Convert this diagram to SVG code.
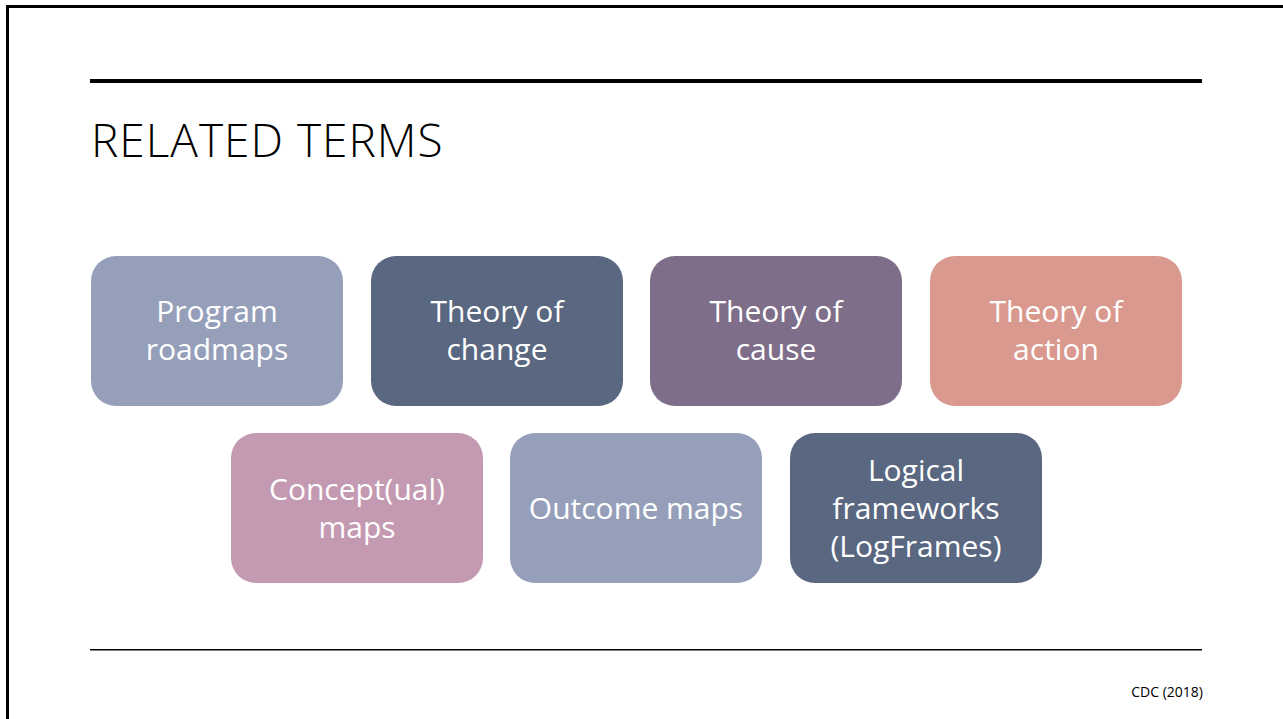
<svg xmlns="http://www.w3.org/2000/svg" width="1283" height="719" viewBox="0 0 1283 719">
<style>
.box{stroke:none}
.lbl{font-family:"Open Sans","Liberation Sans",sans-serif;font-size:30px;fill:#ffffff;text-anchor:middle}
.title{font-family:"Open Sans","Liberation Sans",sans-serif;font-weight:300;font-size:46px;letter-spacing:1px;fill:#000}
.foot{font-family:"Open Sans","Liberation Sans",sans-serif;font-size:14px;fill:#000;text-anchor:end}
</style>
<rect x="0" y="0" width="1283" height="719" fill="#ffffff"/>
<path d="M7.5 719 V6.5 H1283" fill="none" stroke="#000" stroke-width="3"/>
<rect x="90" y="79" width="1112" height="4" fill="#000"/>
<text class="title" x="91" y="157">RELATED TERMS</text>
<g id="n1"><rect class="box" x="91" y="256" width="252" height="150" rx="25" fill="#959FBA"/><text class="lbl" x="217" y="322">Program</text><text class="lbl" x="217" y="360">roadmaps</text></g>
<g id="n2"><rect class="box" x="371" y="256" width="252" height="150" rx="25" fill="#5A6780"/><text class="lbl" x="497" y="322">Theory of</text><text class="lbl" x="497" y="360">change</text></g>
<g id="n3"><rect class="box" x="650" y="256" width="252" height="150" rx="25" fill="#7E6E8A"/><text class="lbl" x="776" y="322">Theory of</text><text class="lbl" x="776" y="360">cause</text></g>
<g id="n4"><rect class="box" x="930" y="256" width="252" height="150" rx="25" fill="#DA998E"/><text class="lbl" x="1056" y="322">Theory of</text><text class="lbl" x="1056" y="360">action</text></g>
<g id="n5"><rect class="box" x="231" y="433" width="252" height="150" rx="25" fill="#C39AB1"/><text class="lbl" x="357" y="500">Concept(ual)</text><text class="lbl" x="357" y="538">maps</text></g>
<g id="n6"><rect class="box" x="510" y="433" width="252" height="150" rx="25" fill="#969FBA"/><text class="lbl" x="636" y="519">Outcome maps</text></g>
<g id="n7"><rect class="box" x="790" y="433" width="252" height="150" rx="25" fill="#5A6780"/><text class="lbl" x="916" y="481">Logical</text><text class="lbl" x="916" y="519">frameworks</text><text class="lbl" x="916" y="557">(LogFrames)</text></g>
<g id="connectors"></g>
<rect x="90" y="649" width="1112" height="1.5" fill="#000"/>
<text class="foot" x="1203" y="697">CDC (2018)</text>
</svg>
